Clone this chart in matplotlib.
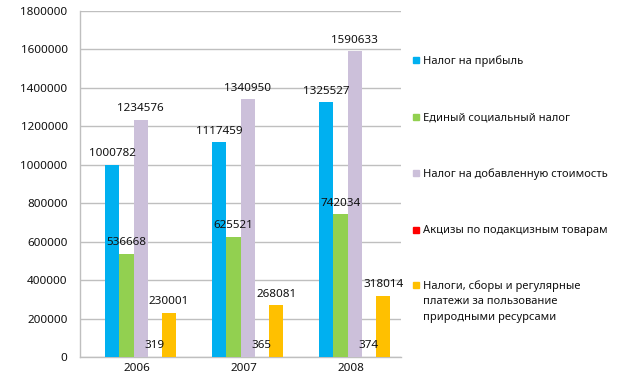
import matplotlib.pyplot as plt
from matplotlib.patches import Rectangle
import numpy as np

plt.rcParams['font.family'] = ['Noto Sans', 'DejaVu Sans']

years = ['2006', '2007', '2008']
series_names = ['Налог на прибыль',
                'Единый социальный налог',
                'Налог на добавленную стоимость',
                'Акцизы по подакцизным товарам',
                'Налоги, сборы и регулярные\nплатежи за пользование\nприродными ресурсами']
profit_tax = [1000782, 1117459, 1325527]
social_tax = [536668, 625521, 742034]
vat = [1234576, 1340950, 1590633]
excise = [319, 365, 374]
resources = [230001, 268081, 318014]
colors = ['#00B0F0', '#92D050', '#CCC0DA', '#FF0000', '#FFC000']

values = [profit_tax, social_tax, vat, excise, resources]

fig = plt.figure(figsize=(6.27, 3.78), dpi=100)
ax = fig.add_axes([80/627, 1-357/378, (401-80)/627, (357-11)/378])

x = np.arange(len(years))
w = 0.133
for i, (vals, c) in enumerate(zip(values, colors)):
    pos = x + (i - 1.5) * w
    ax.bar(pos, vals, width=w, color=c, zorder=3)
    for xx, v in zip(pos, vals):
        ax.annotate(str(v), (xx, v), xytext=(0, 4), textcoords='offset points',
                    ha='center', va='bottom', fontsize=8.4, color='#111111', zorder=4)

ax.set_xlim(-0.5, 2.5)
ax.set_ylim(0, 1800000)
ax.set_yticks(range(0, 1800001, 200000))
ax.set_yticklabels([str(v) for v in range(0, 1800001, 200000)])
ax.set_xticks(x + 0.035)
ax.set_xticklabels(years)
ax.tick_params(axis='both', length=0, labelsize=8.4, colors='#111111')
ax.tick_params(axis='y', pad=9)
ax.tick_params(axis='x', pad=4)
ax.grid(axis='y', color='#bfbfbf', lw=1.0, zorder=0)
for s in ['top', 'right']:
    ax.spines[s].set_visible(False)
for s in ['left', 'bottom']:
    ax.spines[s].set_color('#bfbfbf')
    ax.spines[s].set_linewidth(1.0)

# legend drawn by hand so the marker sits on the first line
legend_y = [60, 117, 173, 230, 285]
for name, c, ly in zip(series_names, colors, legend_y):
    fig.patches.append(Rectangle((413/627, 1-(ly+3)/378), 6/627, 6/378,
                                 transform=fig.transFigure, color=c))
    fig.text(423/627, 1-(ly-5)/378, name, fontsize=8, va='top', ha='left',
             color='#111111', linespacing=1.55, transform=fig.transFigure)

fig.savefig('out.png', dpi=100)
